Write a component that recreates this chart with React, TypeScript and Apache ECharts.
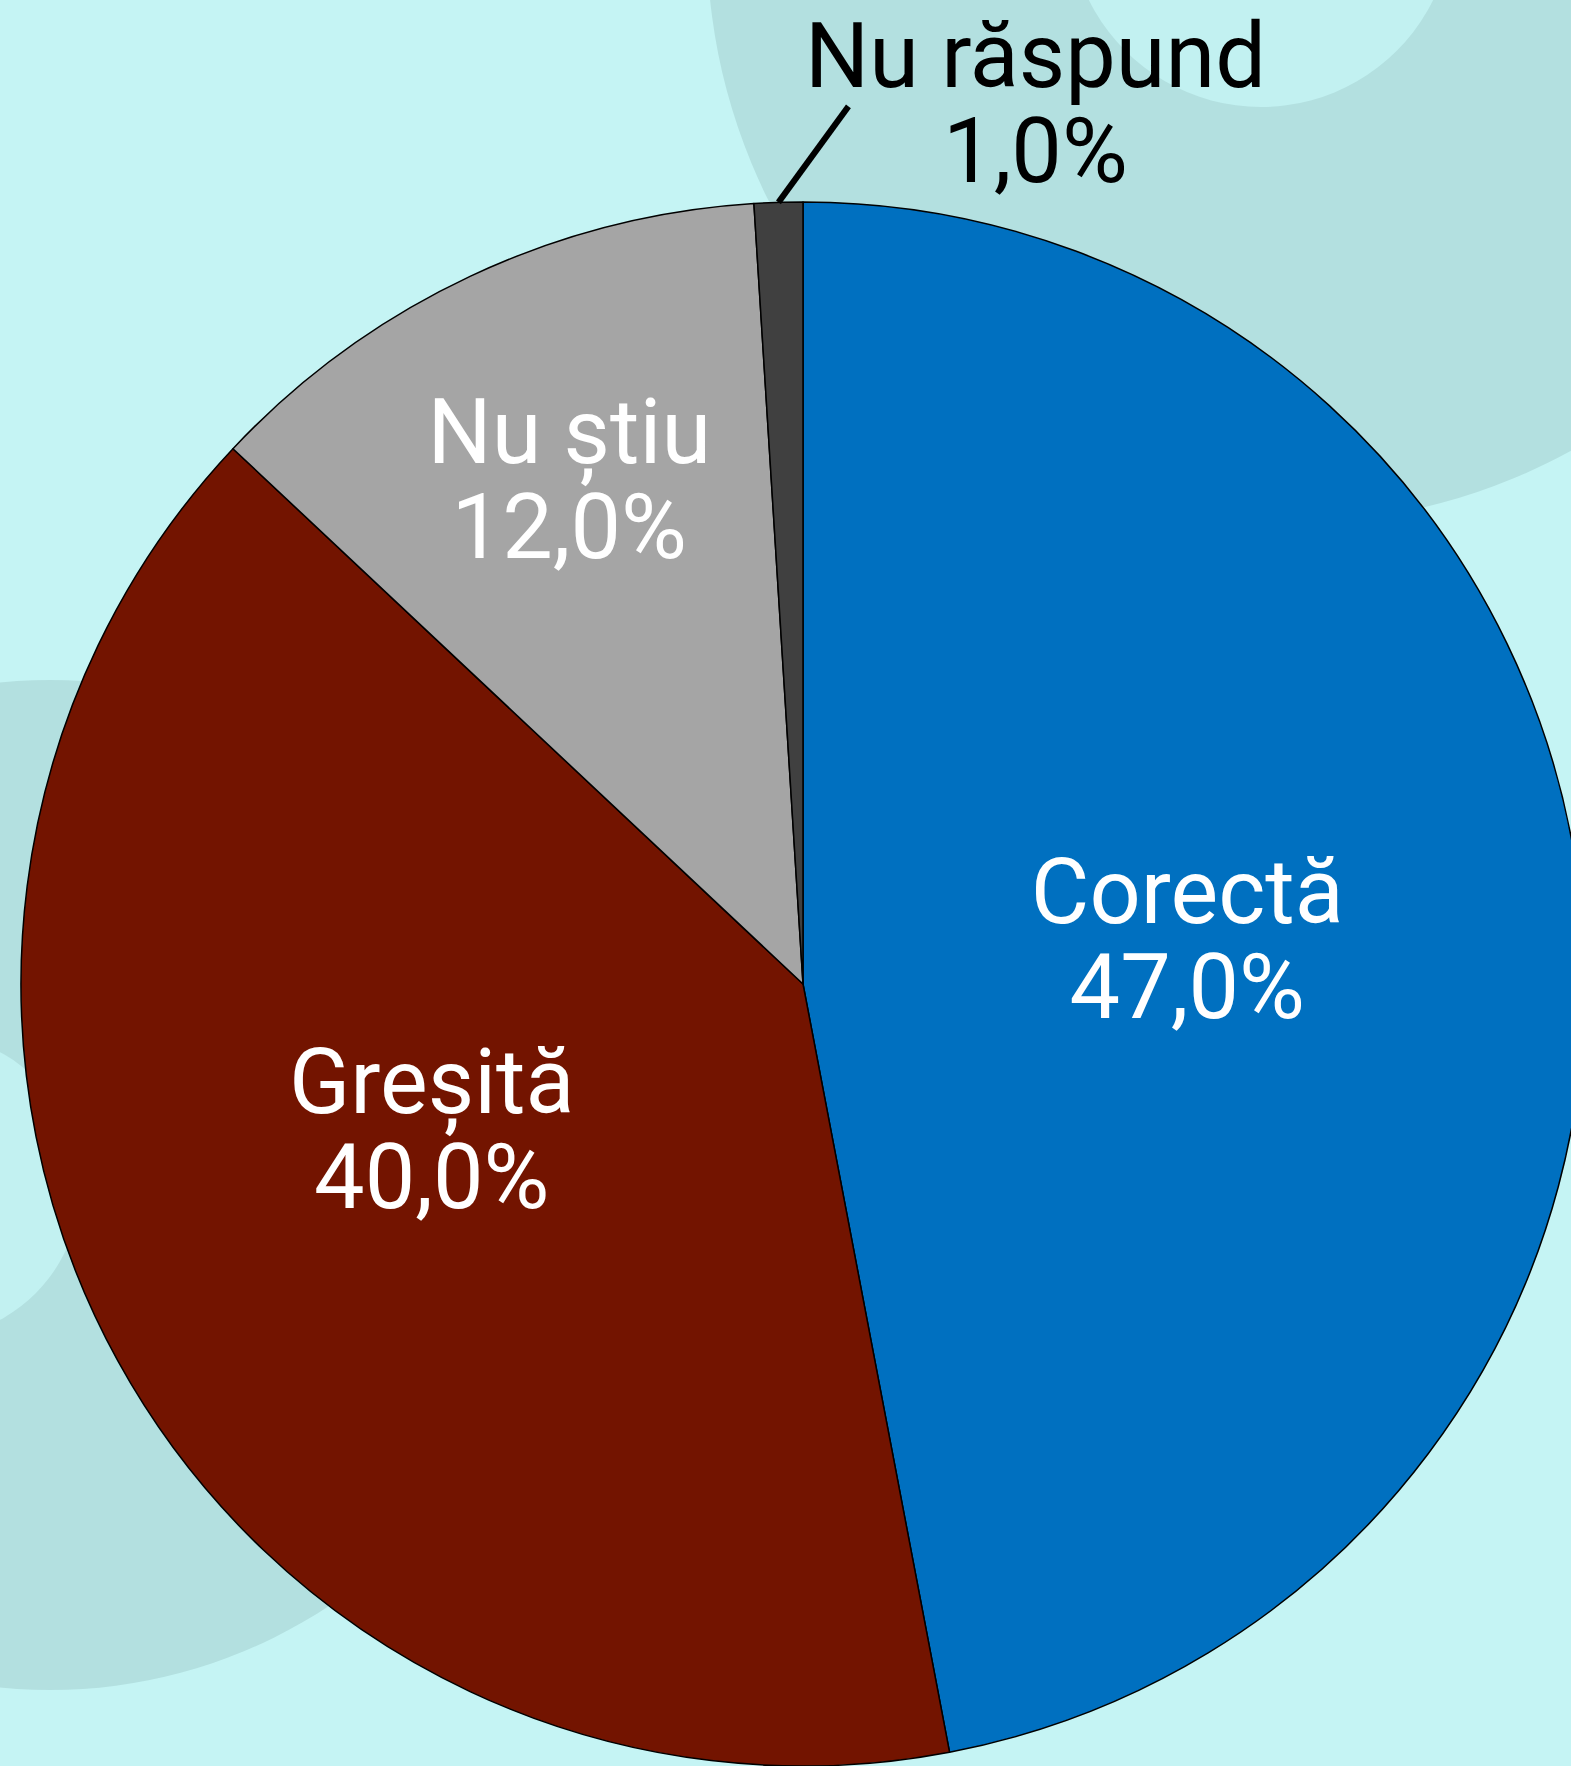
import React, { useEffect, useRef } from "react";
import * as echarts from "echarts";

const categories = ["Corectă", "Greșită", "Nu știu", "Nu răspund"];
const values = [47, 40, 12, 1];
const sliceColors = ["#0070c0", "#731400", "#a5a5a5", "#404040"];
const labelColors = ["#ffffff", "#ffffff", "#ffffff", "#000000"];
// manual label nudges (like Excel's moved labels), in px
const labelNudges = [[-8, -7], [-26, -44], [-66, -147], [0, 0]];
const leaderDelta = [70, -96];
const outsideLabelFromLeaderEnd = [187, -2];

const W = 1571;
const H = 1766;
const CENTER = [803, 984];
const RADIUS = 782;
const START_ANGLE = 90;

export default function App() {
  const ref = useRef<HTMLDivElement>(null);
  useEffect(() => {
    if (!ref.current) return;
    const chart = echarts.init(ref.current, null, { renderer: "svg" });

    // leader line for the small slice, anchored on its mid-angle at the rim
    const total = values.reduce((a, b) => a + b, 0);
    const before = values.slice(0, 3).reduce((a, b) => a + b, 0);
    const midDeg = START_ANGLE - (360 * (before + values[3] / 2)) / total;
    const midRad = (midDeg * Math.PI) / 180;
    const p0 = [CENTER[0] + RADIUS * Math.cos(midRad), CENTER[1] - RADIUS * Math.sin(midRad)];
    const p1 = [p0[0] + leaderDelta[0], p0[1] + leaderDelta[1]];

    const data = categories.map((name, i) => ({
      name,
      value: values[i],
      itemStyle: { color: sliceColors[i] },
      label:
        i === 3
          ? { position: "outside", color: labelColors[i] }
          : { position: "inside", color: labelColors[i] },
      labelLine: { show: false },
    }));
    chart.setOption({
      animation: false,
      backgroundColor: "#c5f4f4",
      graphic: [
        { type: "circle", z: -10, silent: true, shape: { cx: 1290, cy: -60, r: 583 }, style: { fill: "#b3e0e0" } },
        { type: "circle", z: -9, silent: true, shape: { cx: 1261, cy: -85, r: 192 }, style: { fill: "#c2f1f1" } },
        { type: "circle", z: -10, silent: true, shape: { cx: 50, cy: 1185, r: 505 }, style: { fill: "#b3e0e0" } },
        { type: "circle", z: -9, silent: true, shape: { cx: -72, cy: 1186, r: 152 }, style: { fill: "#c2f1f1" } },
        {
          type: "line",
          z: 10,
          silent: true,
          shape: { x1: p0[0], y1: p0[1], x2: p1[0], y2: p1[1] },
          style: { stroke: "#000000", lineWidth: 6 },
        },
      ],
      series: [
        {
          type: "pie",
          center: CENTER,
          radius: RADIUS,
          startAngle: START_ANGLE,
          clockwise: true,
          avoidLabelOverlap: false,
          itemStyle: { borderColor: "#000000", borderWidth: 1.5 },
          label: {
            show: true,
            fontFamily: "Roboto",
            fontSize: 90,
            lineHeight: 95,
            formatter: (p: any) =>
              `${p.name}\n${Number(p.value).toFixed(1).replace(".", ",")}%`,
          },
          labelLine: { show: false },
          emphasis: { disabled: true },
          labelLayout: (params: any) => {
            const i = params.dataIndex;
            if (i === 3) {
              return {
                x: p1[0] + outsideLabelFromLeaderEnd[0],
                y: p1[1] + outsideLabelFromLeaderEnd[1],
                align: "center",
                verticalAlign: "middle",
              };
            }
            return { dx: labelNudges[i][0], dy: labelNudges[i][1] };
          },
          data,
        },
      ],
    });
    return () => chart.dispose();
  }, []);
  return (
    <div
      ref={ref}
      style={{ position: "absolute", left: 0, top: 0, width: W, height: H }}
    />
  );
}
